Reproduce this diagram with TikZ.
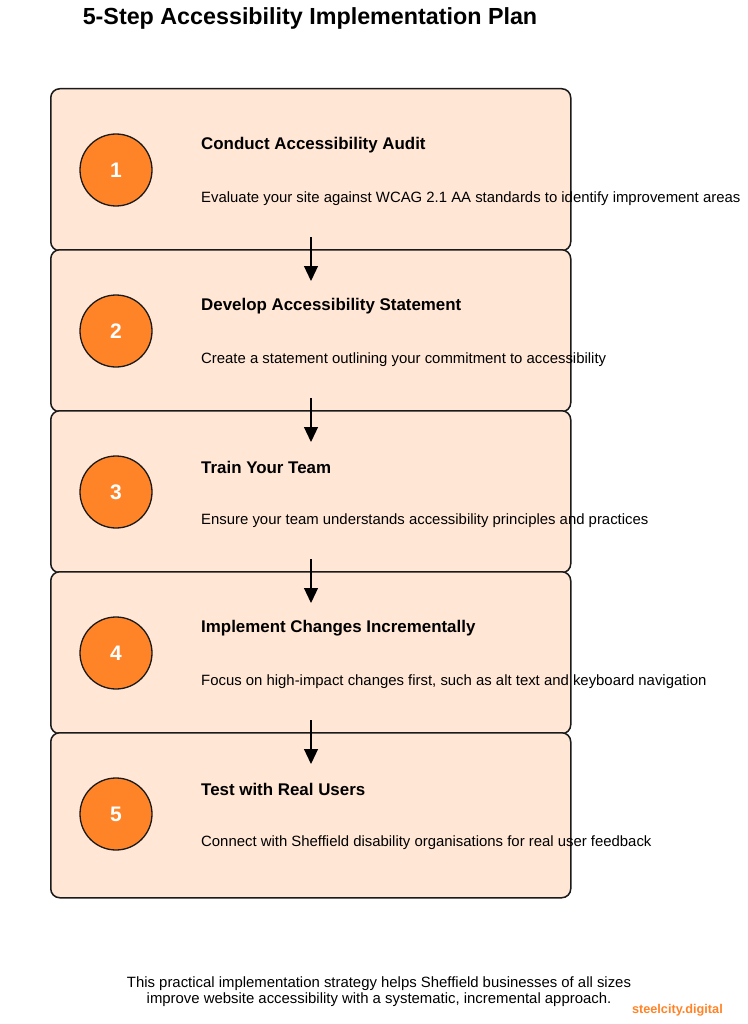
\documentclass[tikz,border=0pt]{standalone}
\usepackage{fontspec}
\usetikzlibrary{arrows.meta}
\setmainfont{Liberation Sans}
\definecolor{boxfill}{HTML}{FFE6D5}
\definecolor{circfill}{HTML}{FF8427}
\definecolor{brand}{HTML}{FF8427}
\definecolor{edge}{HTML}{1A1A1A}
\begin{document}
\begin{tikzpicture}[x=1pt,y=-1pt,
  stepbox/.style={draw=edge,line width=1.5pt,fill=boxfill,rounded corners=9pt,minimum width=520pt,minimum height=162pt,anchor=north west,inner sep=0pt},
  numcirc/.style={circle,draw=edge,line width=1.3pt,fill=circfill,minimum size=72pt,inner sep=0pt,text=white,font=\fontsize{21}{25}\selectfont\bfseries},
  steptitle/.style={anchor=west,inner sep=0pt,font=\fontsize{16.9}{20}\selectfont\bfseries},
  stepdesc/.style={anchor=west,inner sep=0pt,font=\fontsize{14.9}{18}\selectfont},
  flow/.style={-{Triangle[length=15pt,width=14pt]},line width=1.2pt,draw=black}]
\useasboundingbox (0,0) rectangle (747,1024);
\fill[white] (0,0) rectangle (747,1024);
\node[inner sep=0pt,font=\fontsize{23.3}{28}\selectfont\bfseries] (title) at (310,18) {5-Step Accessibility Implementation Plan};
\foreach \i/\t/\d in {
 1/Conduct Accessibility Audit/Evaluate your site against WCAG 2.1 AA standards to identify improvement areas,
 2/Develop Accessibility Statement/Create a statement outlining your commitment to accessibility,
 3/Train Your Team/Ensure your team understands accessibility principles and practices,
 4/Implement Changes Incrementally/{Focus on high-impact changes first, such as alt text and keyboard navigation},
 5/Test with Real Users/Connect with Sheffield disability organisations for real user feedback}{
  \pgfmathsetmacro{\yy}{88+161*(\i-1)}
  \ifnum\i=5
    \node[stepbox,minimum height=165pt] (box\i) at (50,\yy) {};
  \else
    \node[stepbox] (box\i) at (50,\yy) {};
  \fi
  \node[numcirc] (c\i) at (116,\yy+82) {\i};
  \node[steptitle] (t\i) at (201,\yy+57) {\t};
  \node[stepdesc] (d\i) at (201,\yy+110.5) {\d};
}
\foreach \i in {1,2,3,4}{
  \coordinate (s\i) at ([yshift=14.5pt]box\i.south -| 311,0);
  \coordinate (e\i) at ([yshift=-29.5pt]box\i.south -| 311,0);
  \draw[flow] (s\i) -- (e\i);
}
\node[align=center,inner sep=0pt,font=\fontsize{14.9}{16.5}\selectfont] (foot) at (379,991.5) {This practical implementation strategy helps Sheffield businesses of all sizes\\improve website accessibility with a systematic, incremental approach.};
\node[anchor=east,inner sep=0pt,text=brand,font=\fontsize{12.7}{14}\selectfont\bfseries] (brandn) at (723,1010) {steelcity.digital};
\end{tikzpicture}
\end{document}
